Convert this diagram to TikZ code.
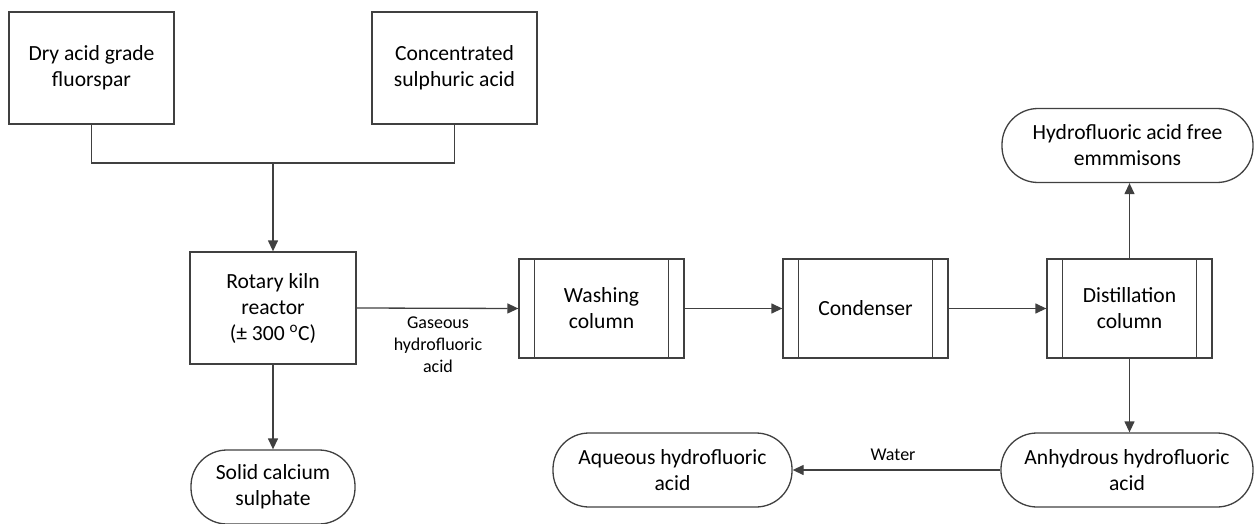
\documentclass[tikz,border=0pt]{standalone}
\usepackage{fontspec}
\setmainfont{Carlito}
\usetikzlibrary{arrows.meta}
\definecolor{linec}{HTML}{404040}
\tikzset{
  base/.style={draw=linec, line width=1.3pt, align=center, inner sep=2pt,
    font=\fontsize{21.6}{26}\selectfont, text=black},
  box/.style={base, rectangle, minimum width=165pt, minimum height=112pt},
  procbox/.style={base, rectangle, minimum width=165pt, minimum height=99pt},
  term/.style={base, rectangle, rounded corners=36pt, minimum height=74pt},
  lbl/.style={align=center, inner sep=0pt, font=\fontsize{18}{22}\selectfont, text=black},
  conn/.style={draw=linec, line width=1.3pt},
  arr/.style={conn, -{Triangle[length=11pt,width=10pt]}},
}
\begin{document}
\begin{tikzpicture}[x=1pt,y=-1pt]
\useasboundingbox (0,0) rectangle (1254,524);
\node[box] (fluor) at (91.5,68) {Dry acid grade\\fluorspar};
\node[box] (sulph) at (454.5,68) {Concentrated\\sulphuric acid};
\node[box, minimum width=166pt] (kiln) at (273,308) {Rotary kiln\\reactor\\(± 300 \textsuperscript{o}C)};
\node[procbox] (wash) at (601.5,308.5) {Washing\\column};
\node[procbox] (cond) at (865.5,308.5) {Condenser};
\node[procbox] (dist) at (1129.5,308.5) {Distillation\\column};
\node[term, minimum width=251pt] (emis) at (1127.5,145.5) {Hydrofluoric acid free\\emmmisons};
\node[term, minimum width=252pt] (anhy) at (1127,470) {Anhydrous hydrofluoric\\acid};
\node[term, minimum width=239pt] (aq) at (672.5,470) {Aqueous hydrofluoric\\acid};
\node[term, minimum width=164pt] (solid) at (273,487) {Solid calcium\\sulphate};
\node[lbl] (gas) at (438,345) {Gaseous\\hydrofluoric\\acid};
\node[lbl] (water) at (893,455) {Water};
\coordinate (j) at (273,163);
% inner lines of process boxes
\foreach \n in {wash,cond,dist}{
  \draw[conn] ([xshift=16pt]\n.north west) -- ([xshift=16pt]\n.south west);
  \draw[conn] ([xshift=-16pt]\n.north east) -- ([xshift=-16pt]\n.south east);
}
\draw[conn] (fluor.south) -- (fluor.south |- j) -- (sulph.south |- j) -- (sulph.south);
\draw[arr] (j) -- (kiln.north);
\draw[arr] (kiln.south) -- (solid.north);
\draw[arr] (kiln.east) -- (wash.west);
\draw[arr] (wash.east) -- (cond.west);
\draw[arr] (cond.east) -- (dist.west);
\draw[arr] (dist.north) -- (dist.north |- emis.south);
\draw[arr] (dist.south) -- (dist.south |- anhy.north);
\draw[arr] (anhy.west) -- (aq.east);
\end{tikzpicture}
\end{document}
